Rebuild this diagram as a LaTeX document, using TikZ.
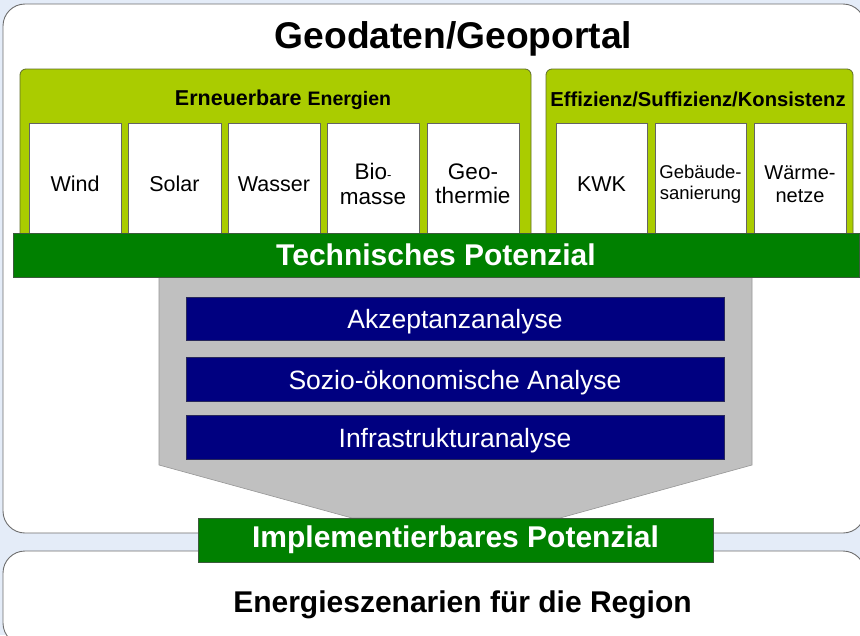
\documentclass[tikz,border=0pt]{standalone}
\usepackage{fontspec}
\setmainfont{Liberation Sans}
\definecolor{bgC}{RGB}{228,236,248}
\definecolor{frameC}{RGB}{110,110,110}
\definecolor{limeC}{RGB}{170,204,0}
\definecolor{limeB}{RGB}{95,110,40}
\definecolor{itemB}{RGB}{100,100,100}
\definecolor{dkgreenC}{RGB}{0,128,0}
\definecolor{bandB}{RGB}{60,90,60}
\definecolor{navyC}{RGB}{0,0,128}
\definecolor{navyB}{RGB}{40,40,90}
\definecolor{funnelC}{RGB}{192,192,192}
\definecolor{funnelB}{RGB}{150,150,150}
\tikzset{
  frame/.style={draw=frameC, line width=0.9pt, fill=white, rounded corners=22pt, inner sep=0pt, outer sep=0pt},
  grpbox/.style={draw=limeB, line width=0.8pt, fill=limeC, rounded corners=6pt, inner sep=0pt, outer sep=0pt},
  itembox/.style={draw=itemB, line width=0.8pt, fill=white, inner sep=0pt, outer sep=0pt, align=center, text=black},
  itemfont/.style={font=\fontsize{21.5}{24}\selectfont},
  band/.style={draw=bandB, line width=0.8pt, fill=dkgreenC, inner sep=0pt, outer sep=0pt, text=white, font=\bfseries\fontsize{30}{30}\selectfont},
  anabox/.style={draw=navyB, line width=0.8pt, fill=navyC, text=white, inner sep=0pt, outer sep=0pt, text height=20pt, text depth=0pt, font=\fontsize{26.5}{28}\selectfont},
  lbl/.style={inner sep=0pt, outer sep=0pt, anchor=base},
}
\begin{document}
\begin{tikzpicture}[x=1pt,y=-1pt]
\useasboundingbox (0,0) rectangle (860,635);
\begin{scope}
\clip (0,0) rectangle (860,635);
\fill[bgC] (0,0) rectangle (860,635);
% outer frames
\node[frame, minimum width=862pt, minimum height=529pt] (outer) at (434,268.5) {};
\node[frame, minimum width=862pt, minimum height=94pt] (scen) at (434,598) {};
\end{scope}
% title
\node[lbl, font=\bfseries\fontsize{37.2}{40}\selectfont] (title) at (453.5,48) {Geodaten/Geoportal};
% group boxes
\node[grpbox, minimum width=511pt, minimum height=176pt] (ee) at (275.5,157) {};
\node[grpbox, minimum width=307pt, minimum height=176pt] (efk) at (699.5,157) {};
\node[lbl] (eeT) at (283,105) {\bfseries{\fontsize{21.5}{22}\selectfont Erneuerbare }{\fontsize{19.5}{22}\selectfont Energien}};
\node[lbl, font=\bfseries\fontsize{20.2}{22}\selectfont] (efkT) at (698,106) {Effizienz/Suffizienz/Konsistenz};
% items
\node[itembox, itemfont, minimum width=92pt, minimum height=122pt] (wind) at (75,184) {Wind};
\node[itembox, itemfont, minimum width=93pt, minimum height=122pt] (solar) at (174.5,184) {Solar};
\node[itembox, itemfont, minimum width=92pt, minimum height=122pt] (wasser) at (274,184) {Wasser};
\node[itembox, font=\fontsize{22.5}{24.5}\selectfont, minimum width=92pt, minimum height=122pt] (bio) at (373,184) {Bio{\fontsize{13}{13}\selectfont -}\\masse};
\node[itembox, font=\fontsize{22.5}{24.5}\selectfont, minimum width=92pt, minimum height=122pt] (geo) at (473,184) {Geo-\\thermie};
\node[itembox, itemfont, minimum width=91pt, minimum height=122pt] (kwk) at (601.5,184) {KWK};
\node[itembox, font=\fontsize{18.5}{21}\selectfont, minimum width=91pt, minimum height=122pt] (geb) at (700.5,184) {Gebäude-\\sanierung};
\node[itembox, font=\fontsize{20}{22.5}\selectfont, minimum width=92pt, minimum height=122pt] (waerme) at (800,184) {Wärme-\\netze};
% funnel
\filldraw[fill=funnelC, draw=funnelB, line width=0.6pt] (159,277) -- (752,277) -- (752,465) -- (560,518) -- (352,518) -- (159,465) -- cycle;
% band
\node[band, minimum width=846pt, minimum height=44pt] (tech) at (436,255) {Technisches Potenzial};
% analyses
\node[anabox, minimum width=538pt, minimum height=43pt] (akz) at (455,318.5) {Akzeptanzanalyse};
\node[anabox, minimum width=538pt, minimum height=44pt] (sozio) at (455,379) {Sozio-ökonomische Analyse};
\node[anabox, minimum width=538pt, minimum height=44pt] (infra) at (455,437) {Infrastrukturanalyse};
% implementable
\node[band, minimum width=515pt, minimum height=44pt] (impl) at (455.5,540) {Implementierbares Potenzial};
% scenario text
\node[lbl, font=\bfseries\fontsize{30}{32}\selectfont] (scenT) at (462.5,612) {Energieszenarien für die Region};
\end{tikzpicture}
\end{document}
